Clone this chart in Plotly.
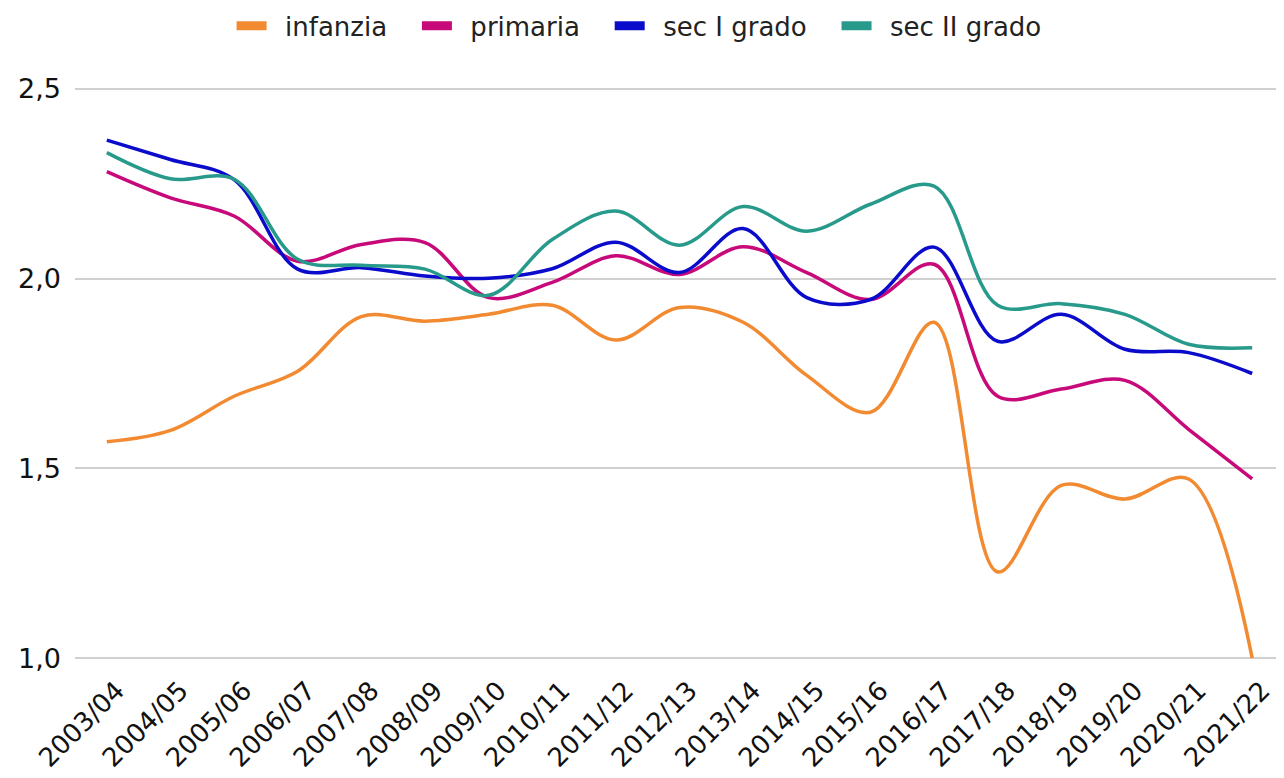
import plotly.graph_objs as go    # Plotly graph objects for the line chart

# School years on the x axis
years = ['2003/04', '2004/05', '2005/06', '2006/07', '2007/08', '2008/09', '2009/10',
         '2010/11', '2011/12', '2012/13', '2013/14', '2014/15', '2015/16', '2016/17',
         '2017/18', '2018/19', '2019/20', '2020/21', '2021/22']

# Values per school level
infanzia = [1.57, 1.60, 1.69, 1.756, 1.90, 1.888, 1.906, 1.93, 1.838, 1.924,
            1.885, 1.745, 1.648, 1.885, 1.227, 1.455, 1.419, 1.472, 1.0]
primaria = [2.282, 2.213, 2.165, 2.046, 2.09, 2.095, 1.95, 1.99, 2.06, 2.011,
            2.084, 2.016, 1.945, 2.038, 1.69, 1.709, 1.732, 1.603, 1.472]
sec_1 = [2.365, 2.314, 2.261, 2.025, 2.029, 2.007, 2.001, 2.026, 2.096, 2.016,
         2.132, 1.95, 1.945, 2.083, 1.835, 1.906, 1.814, 1.805, 1.75]
sec_2 = [2.332, 2.263, 2.262, 2.051, 2.035, 2.025, 1.956, 2.103, 2.178, 2.088,
         2.19, 2.125, 2.196, 2.244, 1.93, 1.934, 1.906, 1.827, 1.818]

names = ['infanzia', 'primaria', 'sec I grado', 'sec II grado']
colors = ['#f28a32', '#c8097a', '#0b0bcc', '#279a8b']

fig = go.Figure()

# Smoothed lines, legend handled by separate thick entries below
for name, vals, col in zip(names, [infanzia, primaria, sec_1, sec_2], colors):
    fig.add_trace(go.Scatter(x=years, y=vals, name=name, mode='lines',
                             line=dict(color=col, width=3.5, shape='spline', smoothing=1),
                             showlegend=False))

# Legend swatches drawn as short thick bars (nbsp padding widens the gaps)
pad = '\u00a0\u2009'
for i, (name, col) in enumerate(zip(names, colors)):
    tail = '\u00a0\u00a0\u00a0' if i < len(names) - 1 else ''
    fig.add_trace(go.Scatter(x=[None], y=[None], name=pad + name + tail, mode='lines',
                             line=dict(color=col, width=9), showlegend=True))

# the page body adds an 8px offset, margins below account for it
fig.update_layout(
    width=1284, height=778,
    margin=dict(l=67, r=8, t=79, b=126, autoexpand=False),
    plot_bgcolor='white', paper_bgcolor='white',
    separators=',.',
    font=dict(family='DejaVu Sans, Verdana, sans-serif', size=26, color='#111'),
    legend=dict(orientation='h', xref='container', yref='container',
                x=0.4915, xanchor='center', y=0.977, yanchor='middle',
                font=dict(size=26, color='#222'), itemwidth=30),
    xaxis=dict(type='category', range=[-0.5, 18.5], tickangle=-45,
               tickfont=dict(size=26), ticklabelstandoff=9, ticklabelshift=10,
               showgrid=False, showline=False, zeroline=False, ticks=''),
    yaxis=dict(range=[0.995, 2.505], tickvals=[1.0, 1.5, 2.0, 2.5], tickformat='.1f',
               tickfont=dict(size=27),
               showgrid=True, gridcolor='#d0d0d0', gridwidth=2,
               zeroline=False, showline=False, ticks='', ticklabelstandoff=13),
)

fig.write_html("out.html")
